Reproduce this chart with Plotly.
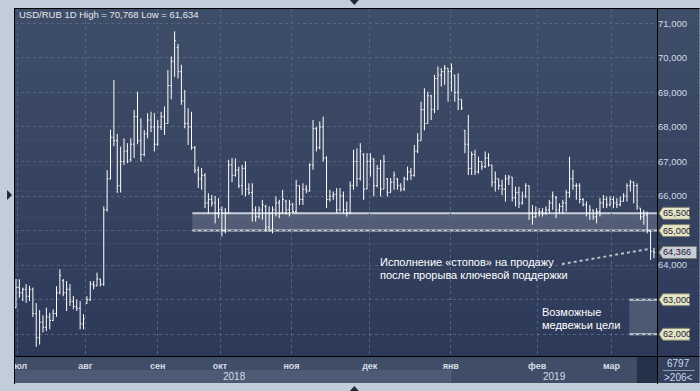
import plotly.graph_objects as go

# ---------------- data ----------------
O = [62.77, 63.35, 63.20, 63.30, 63.10, 63.30, 62.60, 61.90, 62.35, 62.20,
     62.50, 62.40, 62.60, 63.20, 63.55, 63.20, 63.30, 62.95, 62.80, 62.75,
     62.30, 62.90, 63.00, 63.45, 63.40, 63.60, 63.45, 65.60, 66.50, 67.70,
     67.60, 66.30, 67.00, 67.30, 67.05, 67.50, 68.30, 67.60, 67.20, 67.80,
     68.20, 68.00, 67.50, 68.00, 68.30, 68.10, 69.20, 69.90, 70.30, 69.60,
     68.75, 68.10, 68.00, 67.40, 66.75, 66.50, 66.60, 65.80, 65.90, 65.80,
     65.50, 65.60, 65.00, 65.50, 66.90, 66.60, 66.75, 66.30, 66.80, 66.20,
     66.10, 65.60, 65.40, 65.60, 65.70, 65.10, 65.50, 65.60, 65.80, 65.50,
     65.85, 65.60, 65.75, 65.55, 66.30, 65.90, 66.20, 66.15, 66.90, 67.95,
     67.40, 68.00, 67.10, 65.90, 66.00, 66.05, 65.60, 66.00, 65.60, 65.50,
     66.30, 67.00, 66.50, 67.20, 66.20, 67.00, 67.05, 66.30, 66.80, 66.20,
     66.50, 66.10, 66.40, 66.50, 66.30, 66.20, 66.50, 66.70, 66.60, 67.30,
     67.60, 68.50, 68.10, 68.90, 68.50, 69.40, 69.50, 69.60, 69.70, 69.60,
     69.50, 69.00, 68.80, 67.90, 67.50, 66.80, 67.20, 66.70, 67.00, 66.85,
     67.10, 66.90, 66.40, 66.50, 66.30, 66.20, 66.50, 66.55, 65.95, 66.10,
     65.80, 66.00, 66.30, 65.50, 65.40, 65.50, 65.55, 65.50, 65.60, 65.80,
     65.95, 65.60, 65.70, 65.80, 66.10, 66.50, 66.30, 66.30, 65.90, 65.75,
     65.50, 65.60, 65.40, 65.55, 65.80, 65.90, 65.75, 65.90, 65.80, 65.75,
     65.85, 66.00, 66.30, 66.40, 66.30, 65.65, 65.40, 65.45, 64.97, 64.40]

H = [63.60, 63.59, 63.35, 63.45, 63.40, 63.35, 62.90, 62.70, 62.55, 62.77,
     62.62, 62.72, 63.39, 63.88, 63.60, 63.54, 63.45, 63.11, 63.00, 62.96,
     62.58, 63.10, 63.54, 63.54, 63.78, 63.60, 65.70, 66.75, 67.92, 69.36,
     67.80, 67.43, 67.67, 67.53, 67.67, 68.49, 69.02, 68.25, 67.91, 68.40,
     68.44, 68.40, 68.20, 68.44, 68.59, 69.65, 70.04, 70.768, 70.40, 69.80,
     69.07, 68.54, 68.44, 67.45, 66.85, 66.81, 66.66, 66.08, 66.03, 66.00,
     65.94, 65.70, 65.65, 67.05, 67.10, 67.09, 66.85, 66.90, 67.00, 66.37,
     66.37, 65.70, 65.70, 65.89, 65.75, 65.70, 65.70, 65.99, 65.89, 66.18,
     65.89, 65.89, 65.80, 66.47, 66.30, 66.37, 66.32, 66.95, 68.20, 68.00,
     68.16, 68.30, 67.15, 66.18, 66.13, 66.23, 66.23, 66.13, 65.84, 66.42,
     67.34, 67.38, 67.53, 67.24, 67.24, 67.24, 67.10, 66.90, 67.05, 67.19,
     66.52, 66.52, 66.71, 66.52, 66.37, 66.56, 66.85, 66.81, 67.48, 67.82,
     68.73, 69.12, 69.02, 68.93, 69.51, 69.75, 69.70, 69.79, 69.70, 69.84,
     69.51, 69.55, 68.80, 67.91, 68.35, 67.29, 67.34, 67.14, 67.00, 67.29,
     67.24, 66.90, 66.71, 66.50, 66.47, 66.61, 66.61, 66.55, 66.27, 66.27,
     66.13, 66.37, 66.30, 65.74, 65.70, 65.65, 65.65, 65.70, 65.89, 66.13,
     66.00, 65.79, 65.89, 66.18, 67.14, 66.76, 66.37, 66.37, 65.94, 65.84,
     65.74, 65.60, 65.65, 65.94, 66.03, 65.99, 65.99, 65.99, 65.94, 65.99,
     66.08, 66.37, 66.47, 66.42, 66.37, 65.65, 65.60, 65.55, 65.00, 64.50]

L = [62.75, 63.06, 62.96, 62.91, 62.96, 62.50, 61.634, 61.70, 62.05, 62.09,
     62.14, 62.38, 62.50, 63.15, 63.10, 62.67, 62.82, 62.72, 62.67, 62.14,
     62.14, 62.88, 62.96, 63.30, 63.39, 63.39, 63.40, 65.55, 66.48, 67.44,
     66.09, 66.10, 66.90, 66.95, 67.00, 67.10, 67.50, 67.00, 67.15, 67.67,
     67.85, 67.29, 67.45, 67.91, 67.77, 68.10, 68.80, 69.45, 69.40, 68.64,
     67.96, 67.48, 67.34, 66.66, 66.23, 66.18, 65.65, 65.50, 65.70, 65.21,
     65.36, 64.83, 64.92, 65.50, 66.40, 66.56, 66.23, 66.03, 65.99, 66.03,
     65.26, 65.26, 65.35, 65.31, 64.97, 64.97, 64.92, 65.41, 65.36, 65.50,
     65.46, 65.41, 65.50, 65.50, 65.74, 65.74, 66.08, 66.13, 66.76, 67.29,
     67.35, 67.00, 65.65, 65.84, 65.89, 65.50, 65.55, 65.50, 65.41, 65.50,
     66.18, 66.27, 66.45, 65.89, 66.20, 66.56, 65.99, 66.25, 65.99, 66.20,
     65.99, 66.10, 66.18, 66.18, 66.13, 66.15, 66.45, 66.47, 66.56, 67.24,
     67.60, 67.90, 68.10, 68.20, 68.40, 68.49, 69.17, 69.22, 68.73, 69.02,
     68.73, 68.49, 68.49, 67.24, 66.61, 66.61, 66.61, 66.65, 66.76, 66.81,
     66.85, 66.27, 66.13, 66.18, 66.03, 65.84, 66.32, 65.84, 65.70, 65.65,
     65.75, 65.94, 65.31, 65.17, 65.36, 65.41, 65.41, 65.46, 65.50, 65.60,
     65.36, 65.50, 65.50, 65.55, 65.95, 66.18, 65.89, 65.79, 65.70, 65.41,
     65.31, 65.31, 65.21, 65.41, 65.65, 65.65, 65.70, 65.65, 65.65, 65.70,
     65.84, 65.84, 66.13, 65.79, 65.60, 65.31, 65.17, 64.92, 64.15, 64.20]

C = [63.35, 63.20, 63.30, 63.10, 63.30, 62.60, 61.90, 62.35, 62.20, 62.50,
     62.40, 62.60, 63.20, 63.70, 63.20, 63.30, 62.95, 62.80, 62.75, 62.30,
     62.45, 63.00, 63.45, 63.40, 63.60, 63.45, 65.60, 66.50, 67.70, 67.60,
     66.30, 67.00, 67.30, 67.00, 67.50, 68.30, 67.60, 67.20, 67.80, 68.20,
     68.00, 67.50, 68.00, 68.30, 68.10, 69.20, 69.90, 70.50, 69.60, 68.75,
     68.10, 68.00, 67.40, 66.75, 66.50, 66.60, 65.80, 65.90, 65.80, 65.50,
     65.60, 65.00, 65.50, 66.90, 66.60, 66.75, 66.30, 66.80, 66.20, 66.10,
     65.60, 65.40, 65.60, 65.75, 65.10, 65.50, 65.60, 65.80, 65.50, 65.90,
     65.60, 65.75, 65.55, 66.30, 65.90, 66.20, 66.15, 66.90, 67.95, 67.40,
     68.00, 67.10, 65.90, 66.00, 66.05, 65.60, 66.00, 65.60, 65.50, 66.30,
     67.00, 66.50, 67.30, 66.20, 67.00, 67.10, 66.30, 66.80, 66.20, 67.00,
     66.10, 66.40, 66.60, 66.30, 66.20, 66.50, 66.70, 66.60, 67.30, 67.60,
     68.50, 68.10, 68.90, 68.50, 69.40, 69.50, 69.60, 69.70, 69.60, 69.70,
     69.00, 68.80, 68.55, 67.50, 66.80, 67.20, 66.70, 67.00, 66.85, 67.10,
     66.90, 66.40, 66.50, 66.30, 66.20, 66.50, 66.55, 65.95, 66.10, 65.80,
     66.00, 66.30, 65.50, 65.40, 65.50, 65.55, 65.50, 65.60, 65.80, 66.00,
     65.60, 65.70, 65.80, 66.10, 66.50, 66.30, 66.30, 65.90, 65.75, 65.50,
     65.60, 65.40, 65.55, 65.80, 65.90, 65.75, 65.90, 65.80, 65.75, 65.85,
     66.00, 66.30, 66.40, 66.30, 65.70, 65.40, 65.45, 65.00, 64.40, 64.366]

BARS = list(range(len(C)))

MONTH_POS = [0.59, 20.55, 41.97, 60.46, 81.6, 104.8, 128.8, 154.4, 176.4]
MONTH_LBL = ["июл", "авг", "сен", "окт", "ноя", "дек", "янв", "фев", "мар"]
PRICE_TICKS = [62, 63, 64, 65, 66, 67, 68, 69, 70, 71]
PRICE_LBL = ["", "", "64,000", "", "66,000", "67,000", "68,000", "69,000", "70,000", "71,000"]
TAG_VALS = [65.5, 65.0, 64.366, 63.0, 62.0]
TAG_LBLS = ["65,500", "65,000", "64,366", "63,000", "62,000"]
YEAR_LBLS = ["2018", "2019"]
SUPPORT = [65.0, 65.5]
TARGETS = [62.0, 63.0]
TITLE_TXT = "USD/RUB 1D High = 70,768 Low = 61,634"
NOTE1 = ["Исполнение «стопов» на продажу", "после прорыва ключевой поддержки"]
NOTE2 = ["Возможные", "медвежьи цели"]
INFO = ["6797", ">206<"]

# ---------------- geometry ----------------
W, HH = 700, 391
ML, MR, MT, MB = 9, 43, 9, 35
PW = W - ML - MR
PH = HH - MT - MB
X0, X1 = -0.2935, 189.90
Y0, Y1 = 61.37, 71.414
FONT = "Liberation Sans, Arial, sans-serif"
FRAME = "#c3ccd9"


def xp(px):
    return (px - ML) / PW


def yp(py):
    return (HH - MB - py) / PH


def xi(px):
    return X0 + (px - ML) / PW * (X1 - X0)


def yv(py):
    return Y1 - (py - MT) / PH * (Y1 - Y0)


def vpy(v):
    return MT + (Y1 - v) / (Y1 - Y0) * PH


shapes = []
# plot / axis gradient background
top, bot = (63, 78, 104), (44, 57, 89)
n = 40
for k in range(n):
    t = (k + 0.5) / n
    c = tuple(round(top[j] + (bot[j] - top[j]) * t) for j in range(3))
    py0 = MT + PH * k / n
    py1 = MT + PH * (k + 1) / n + 0.6
    shapes.append(dict(type="rect", xref="paper", yref="paper", x0=xp(ML), x1=xp(W),
                       y0=yp(py1), y1=yp(py0), fillcolor="rgb(%d,%d,%d)" % c,
                       line_width=0, layer="below"))


def prect(x0, x1, y0, y1, color, layer="below"):
    shapes.append(dict(type="rect", xref="paper", yref="paper", x0=xp(x0), x1=xp(x1),
                       y0=yp(y1), y1=yp(y0), fillcolor=color, line_width=0, layer=layer))


def pline(x0, y0, x1, y1, color, w=1, layer="above"):
    shapes.append(dict(type="line", xref="paper", yref="paper", x0=xp(x0), x1=xp(x1),
                       y0=yp(y0), y1=yp(y1), line=dict(color=color, width=w), layer=layer))


# bottom rows
prect(9, 636, 357, 370, "#404d66")
prect(9, 449, 370, 383, "#4c5a74")
prect(449, 636, 370, 383, "#404d66")
prect(636, 657, 357, 383, "#253148")
prect(658, 700, 357, 383, "#34415c")
pline(663, 370.5, 695, 370.5, "#8d9bb3", 1)

# support zone and target box
shapes.append(dict(type="rect", xref="x", yref="y", x0=xi(188), x1=X1, y0=SUPPORT[0], y1=SUPPORT[1],
                   fillcolor="rgba(255,255,255,0.15)", line_width=0, layer="below"))
for v in SUPPORT:
    shapes.append(dict(type="line", xref="x", yref="y", x0=xi(188), x1=X1, y0=v, y1=v,
                       line=dict(color="#c9ced8", width=2), layer="below"))
shapes.append(dict(type="rect", xref="x", yref="y", x0=xi(629), x1=X1, y0=TARGETS[0], y1=TARGETS[1],
                   fillcolor="rgba(255,255,255,0.15)", line_width=0, layer="below"))
for v in TARGETS:
    shapes.append(dict(type="line", xref="x", yref="y", x0=xi(629), x1=X1, y0=v, y1=v,
                       line=dict(color="#c9ced8", width=2), layer="below"))

# dotted pointer line
shapes.append(dict(type="line", xref="x", yref="y", x0=xi(561), y0=yv(264), x1=xi(649), y1=yv(249),
                   line=dict(color="#b8c0cc", width=2, dash="dot"), layer="above"))

# frame lines
prect(0, 8, 0, HH, FRAME, layer="above")
pline(8.5, 8, 8.5, 384, "#000000", 1)
pline(8, 8.5, 700, 8.5, "#000000", 1)
pline(8, 356.5, 700, 356.5, "#000000", 1)
pline(657.5, 8, 657.5, 384, "#000000", 1)


def ppath(pts, color):
    d = "M " + " L ".join("%f,%f" % (xp(a), yp(b)) for a, b in pts) + " Z"
    shapes.append(dict(type="path", xref="paper", yref="paper", path=d,
                       fillcolor=color, line_width=0, layer="above"))


# small navigation triangles
ppath([(347, 0), (356, 0), (351.5, 5)], "#1d283b")
ppath([(347, 391), (356, 391), (351.5, 386)], "#1d283b")
ppath([(1, 190), (6, 195), (1, 200)], "#1d283b")

annotations = []
# price tags on the right
for v, s in zip(TAG_VALS, TAG_LBLS):
    cy = vpy(v)
    right = 697 if s == "64,366" else 690
    color = "#c9cdd7" if s == "64,366" else "#e4e4c6"
    pts = [(659, cy), (663, cy - 6), (right, cy - 6), (right, cy + 6), (663, cy + 6)]
    d = "M " + " L ".join("%f,%f" % (xp(a), yp(b)) for a, b in pts) + " Z"
    shapes.append(dict(type="path", xref="paper", yref="paper", path=d, fillcolor=color,
                       line=dict(color="#7c7f70", width=1), layer="above"))
    annotations.append(dict(xref="paper", yref="paper", x=xp(661.5), y=yp(cy), text=s,
                            xanchor="left", yanchor="middle", showarrow=False,
                            font=dict(family=FONT, size=9.2, color="#1b2233")))

# title
annotations.append(dict(xref="paper", yref="paper", x=xp(11), y=yp(15), text=TITLE_TXT,
                        xanchor="left", yanchor="middle", showarrow=False,
                        font=dict(family=FONT, size=9.5, color="#e3e7ee")))
# notes
for k, s in enumerate(NOTE1):
    annotations.append(dict(xref="x", yref="y", x=xi(375), y=yv(262 + 12.5 * k), text=s,
                            xanchor="left", yanchor="middle", showarrow=False,
                            font=dict(family=FONT, size=11, color="#ffffff")))
for k, s in enumerate(NOTE2):
    annotations.append(dict(xref="x", yref="y", x=xi(539), y=yv(312 + 12.5 * k), text=s,
                            xanchor="left", yanchor="middle", showarrow=False,
                            font=dict(family=FONT, size=11, color="#ffffff")))
# years
for s, px in zip(YEAR_LBLS, [231, 554]):
    annotations.append(dict(xref="paper", yref="paper", x=xp(px), y=yp(376.5), text=s,
                            xanchor="center", yanchor="middle", showarrow=False,
                            font=dict(family=FONT, size=10, color="#d3ddee")))
# info box
for s, py in zip(INFO, [363.5, 377]):
    annotations.append(dict(xref="paper", yref="paper", x=xp(679), y=yp(py), text=s,
                            xanchor="center", yanchor="middle", showarrow=False,
                            font=dict(family=FONT, size=10, color="#cbd9ef")))

fig = go.Figure(go.Ohlc(
    x=BARS, open=O, high=H, low=L, close=C,
    increasing=dict(line=dict(color="#ffffff", width=1)),
    decreasing=dict(line=dict(color="#ffffff", width=1)),
    tickwidth=0.35, showlegend=False, hoverinfo="skip"))

fig.update_layout(
    width=W, height=HH,
    margin=dict(l=ML, r=MR, t=MT, b=MB, pad=0),
    paper_bgcolor=FRAME, plot_bgcolor="rgba(0,0,0,0)",
    showlegend=False,
    shapes=shapes, annotations=annotations,
    xaxis=dict(range=[X0, X1], fixedrange=True, rangeslider=dict(visible=False),
               tickmode="array", tickvals=MONTH_POS, ticktext=MONTH_LBL,
               ticks="", showline=False, zeroline=False, ticklabelstandoff=3,
               showgrid=True, gridcolor="#56657f", gridwidth=1, griddash="dot",
               tickfont=dict(family=FONT, size=9, color="#d6dde8", weight="bold")),
    yaxis=dict(range=[Y0, Y1], fixedrange=True, side="right",
               tickmode="array", tickvals=PRICE_TICKS, ticktext=PRICE_LBL,
               ticks="", showline=False, zeroline=False,
               showgrid=True, gridcolor="#56657f", gridwidth=1, griddash="dot",
               tickfont=dict(family=FONT, size=9.5, color="#d0d9e8")),
)

fig.write_html("out.html")
